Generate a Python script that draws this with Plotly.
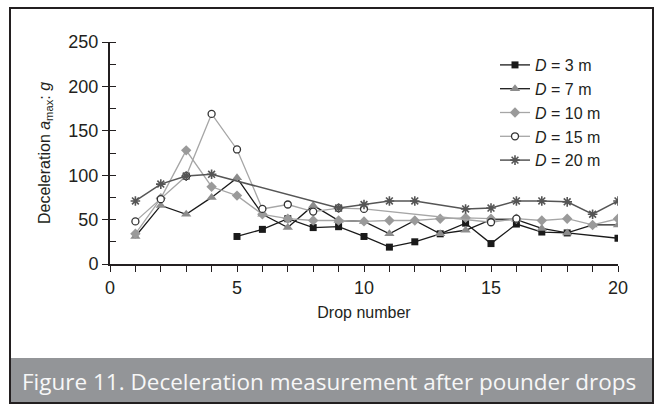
import plotly.graph_objects as go

drops = list(range(1, 21))
d3 = [None, None, None, None, 31, 39, 51, 41, 42, 31, 19, 25, 34, 46, 23, 45, 36, 35, None, 29]
d7 = [31, 66, 56, 75, 97, 56, 41, 66, 49, 48, 34, 49, 34, 38, 50, 50, 40, 35, 44, 44]
d10 = [34, 74, 128, 87, 77, 56, 51, 49, 49, 48, 49, 49, 51, 52, 51, 51, 49, 51, 44, 51]
d15 = [48, 73, 99, 169, 129, 62, 67, 59, 63, 62, None, None, None, None, 47, 51, None, None, None, None]
d20 = [71, 90, 99, 101, None, None, None, None, 63, 67, 71, 71, None, 62, 63, 71, 71, 70, 56, 71]
names = ["<i>D</i> = 3 m", "<i>D</i> = 7 m", "<i>D</i> = 10 m", "<i>D</i> = 15 m", "<i>D</i> = 20 m"]
caption = "Figure 11. Deceleration measurement after pounder drops"

W, H = 658, 406
ML, MR, MT, MB = 110, 40, 42, 142
pw, ph = W - ML - MR, H - MT - MB

def px2paper(x, y):
    return (x - ML) / pw, (H - MB - y) / ph

styles = [
    dict(line=dict(color="#1a1a1a", width=1.3), marker=dict(symbol="square", size=7, color="#1a1a1a")),
    dict(line=dict(color="#1a1a1a", width=1.3), marker=dict(symbol="triangle-up", size=9, color="#8c8c8c")),
    dict(line=dict(color="#a6a6a6", width=1.3), marker=dict(symbol="diamond", size=8, color="#9a9a9a")),
    dict(line=dict(color="#a6a6a6", width=1.3), marker=dict(symbol="circle", size=7, color="white", line=dict(color="#333333", width=1.3))),
    dict(line=dict(color="#555555", width=1.5), marker=dict(symbol="asterisk-open", size=8, color="#555555", line=dict(color="#555555", width=1.6))),
]

fig = go.Figure()
for series, name, st in zip([d3, d7, d10, d15, d20], names, styles):
    fig.add_trace(go.Scatter(x=drops, y=series, name=name, mode="lines+markers",
                             connectgaps=True, line=st["line"], marker=st["marker"]))

font = dict(family="Liberation Sans, Arial, sans-serif", size=18, color="#231f20")

fig.update_layout(
    width=W, height=H, margin=dict(l=ML, r=MR, t=MT, b=MB),
    paper_bgcolor="white", plot_bgcolor="white", font=font,
    showlegend=True,
    legend=dict(x=px2paper(495, 0)[0], y=px2paper(0, 48)[1], xanchor="left", yanchor="top",
                bgcolor="rgba(0,0,0,0)", font=dict(size=16), tracegroupgap=0, itemwidth=30),
    xaxis=dict(range=[0, 20], tickvals=[0, 5, 10, 15, 20], ticks="outside", ticklen=6,
               tickwidth=1.3, tickcolor="#231f20", showline=True, linecolor="#231f20", linewidth=2,
               showgrid=False, zeroline=False,
               minor=dict(dtick=1, ticks="outside", ticklen=6, tickwidth=1.3, tickcolor="#231f20"),
               title=dict(text="Drop number", font=dict(size=16), standoff=10)),
    yaxis=dict(range=[0, 250], tickvals=[0, 50, 100, 150, 200, 250], ticks="outside", ticklen=6,
               tickwidth=1.3, tickcolor="#231f20", showline=True, linecolor="#231f20", linewidth=2,
               showgrid=False, zeroline=False,
               minor=dict(dtick=25, ticks="inside", ticklen=6, tickwidth=1.3, tickcolor="#231f20"),
               title=dict(text="Deceleration <i>a</i><sub>max</sub>: <i>g</i>", font=dict(size=16), standoff=14)),
)

# outer frame and caption band
x0, y0 = px2paper(10, 8)
x1, y1 = px2paper(653, 403)
cx0, cy0 = px2paper(10, 358)
fig.add_shape(type="rect", xref="paper", yref="paper", x0=cx0, x1=x1, y0=cy0, y1=y1,
              fillcolor="#939598", line=dict(width=0), layer="below")
fig.add_shape(type="rect", xref="paper", yref="paper", x0=x0, x1=x1, y0=y0, y1=y1,
              line=dict(color="#231f20", width=2), fillcolor="rgba(0,0,0,0)")
tx, ty = px2paper(20, 381)
fig.add_annotation(text=caption, xref="paper", yref="paper", x=tx, y=ty, xanchor="left", yanchor="middle",
                   showarrow=False, font=dict(family="Open Sans, Lato, sans-serif", size=22.5, color="#f7f7f7"))

fig.write_html("out.html")
